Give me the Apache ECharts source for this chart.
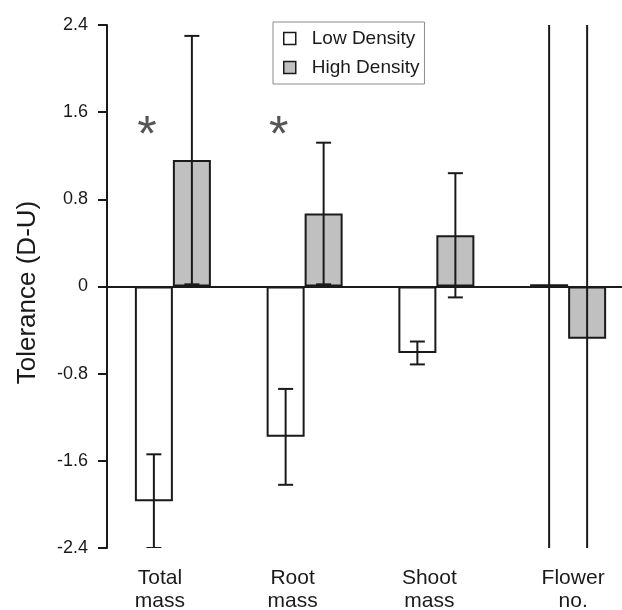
<!DOCTYPE html>
<html>
<head>
<meta charset="utf-8">
<script src="https://cdn.jsdelivr.net/npm/echarts@6/dist/echarts.min.js"></script>
<style>
html,body{margin:0;padding:0;background:#fff;}
#chart{width:622px;height:610px;}
</style>
</head>
<body>
<div id="chart"></div>
<script>
const categories = ['Total\nmass', 'Root\nmass', 'Shoot\nmass', 'Flower\nno.'];
const lowMeans = [-1.97, -1.38, -0.61, 0.02];
const lowErr = [0.43, 0.44, 0.105, 2.7];
const highMeans = [1.16, 0.67, 0.47, -0.48];
const highErr = [1.14, 0.65, 0.57, 3.0];
const sigMarks = ['*', '*', '', ''];
const sigY = 1.47;
const yTicks = [-2.4, -1.6, -0.8, 0, 0.8, 1.6, 2.4];

const FONT = 'Liberation Sans, Arial, sans-serif';
const INK = '#1a1a1a';
const GRAY = '#c0c0c0';
const BAR_W = 38;
const labelShift = [-13, -12, -7, 5];

const chart = echarts.init(document.getElementById('chart'), null, {renderer: 'canvas'});

function errSeries(means, errs, dx) {
  return {
    type: 'custom',
    xAxisIndex: 0,
    clip: true,
    z: 5,
    silent: true,
    data: means.map((m, i) => [i, m, errs[i]]),
    renderItem: function (params, api) {
      const i = api.value(0), m = api.value(1), e = api.value(2);
      const top = api.coord([i, m + e]);
      const bot = api.coord([i, m - e]);
      const x = top[0] + dx;
      const cap = 7.5;
      const style = {stroke: INK, lineWidth: 2};
      return {
        type: 'group',
        children: [
          {type: 'line', shape: {x1: x, y1: top[1], x2: x, y2: bot[1]}, style: style},
          {type: 'line', shape: {x1: x - cap, y1: top[1], x2: x + cap, y2: top[1]}, style: style},
          {type: 'line', shape: {x1: x - cap, y1: bot[1], x2: x + cap, y2: bot[1]}, style: style}
        ]
      };
    }
  };
}

const rich = {};
labelShift.forEach((s, i) => {
  rich['s' + i] = {
    fontFamily: FONT, fontSize: 21, color: INK, lineHeight: 23,
    padding: s < 0 ? [0, -2 * s, 0, 0] : [0, 0, 0, 2 * s]
  };
});

const option = {
  backgroundColor: '#ffffff',
  animation: false,
  grid: {left: 107, right: -12, top: 25, bottom: 62, containLabel: false, outerBoundsMode: 'none'},
  legend: {
    orient: 'vertical',
    left: 273,
    top: 22,
    padding: [7, 5, 7, 10],
    itemGap: 10,
    itemWidth: 12,
    itemHeight: 12,
    borderColor: '#8a8a8a',
    borderWidth: 1,
    backgroundColor: '#ffffff',
    icon: 'rect',
    itemStyle: {borderColor: INK, borderWidth: 1.5},
    textStyle: {fontFamily: FONT, fontSize: 19, color: INK, padding: [0, 0, 0, 11]},
    data: ['Low Density', 'High Density']
  },
  xAxis: [
    {
      type: 'category',
      data: categories,
      axisLine: {onZero: true, lineStyle: {color: INK, width: 2}},
      axisTick: {show: false},
      axisLabel: {show: false},
      splitLine: {show: false}
    },
    {
      type: 'category',
      data: categories,
      position: 'bottom',
      axisLine: {show: false},
      axisTick: {show: false},
      splitLine: {show: false},
      axisLabel: {
        margin: 19,
        formatter: function (v, idx) {
          return v.split('\n').map(l => '{s' + idx + '|' + l + '}').join('\n');
        },
        rich: rich
      }
    }
  ],
  yAxis: {
    type: 'value',
    min: -2.4,
    max: 2.4,
    interval: 0.8,
    name: 'Tolerance (D-U)',
    nameLocation: 'middle',
    nameGap: 66,
    nameRotate: 90,
    nameTextStyle: {fontFamily: FONT, fontSize: 26, color: INK, padding: [0, 12, 0, 0]},
    axisLine: {show: true, onZero: false, lineStyle: {color: INK, width: 2}},
    axisTick: {show: true, inside: false, length: 9, lineStyle: {color: INK, width: 2}},
    axisLabel: {
      fontFamily: FONT, fontSize: 18, color: INK, margin: 19,
      formatter: function (v) { return String(+v.toFixed(1)); }
    },
    splitLine: {show: false}
  },
  series: [
    {
      name: 'Low Density',
      type: 'bar',
      data: lowMeans,
      barWidth: BAR_W,
      barGap: '0%',
      itemStyle: {color: '#ffffff', borderColor: INK, borderWidth: 2},
      z: 3
    },
    {
      name: 'High Density',
      type: 'bar',
      data: highMeans,
      barWidth: BAR_W,
      barGap: '0%',
      itemStyle: {color: GRAY, borderColor: INK, borderWidth: 2},
      z: 3
    },
    errSeries(lowMeans, lowErr, -BAR_W / 2),
    errSeries(highMeans, highErr, BAR_W / 2),
    {
      type: 'scatter',
      silent: true,
      symbolSize: 0,
      data: sigMarks.map((s, i) => [i, s ? sigY : null, s]),
      label: {
        show: true,
        position: 'inside',
        offset: [-26, 11],
        formatter: p => p.data[2],
        fontFamily: FONT,
        fontSize: 50,
        color: '#2a2a2a'
      },
      z: 6
    }
  ]
};
chart.setOption(option);
</script>
</body>
</html>
